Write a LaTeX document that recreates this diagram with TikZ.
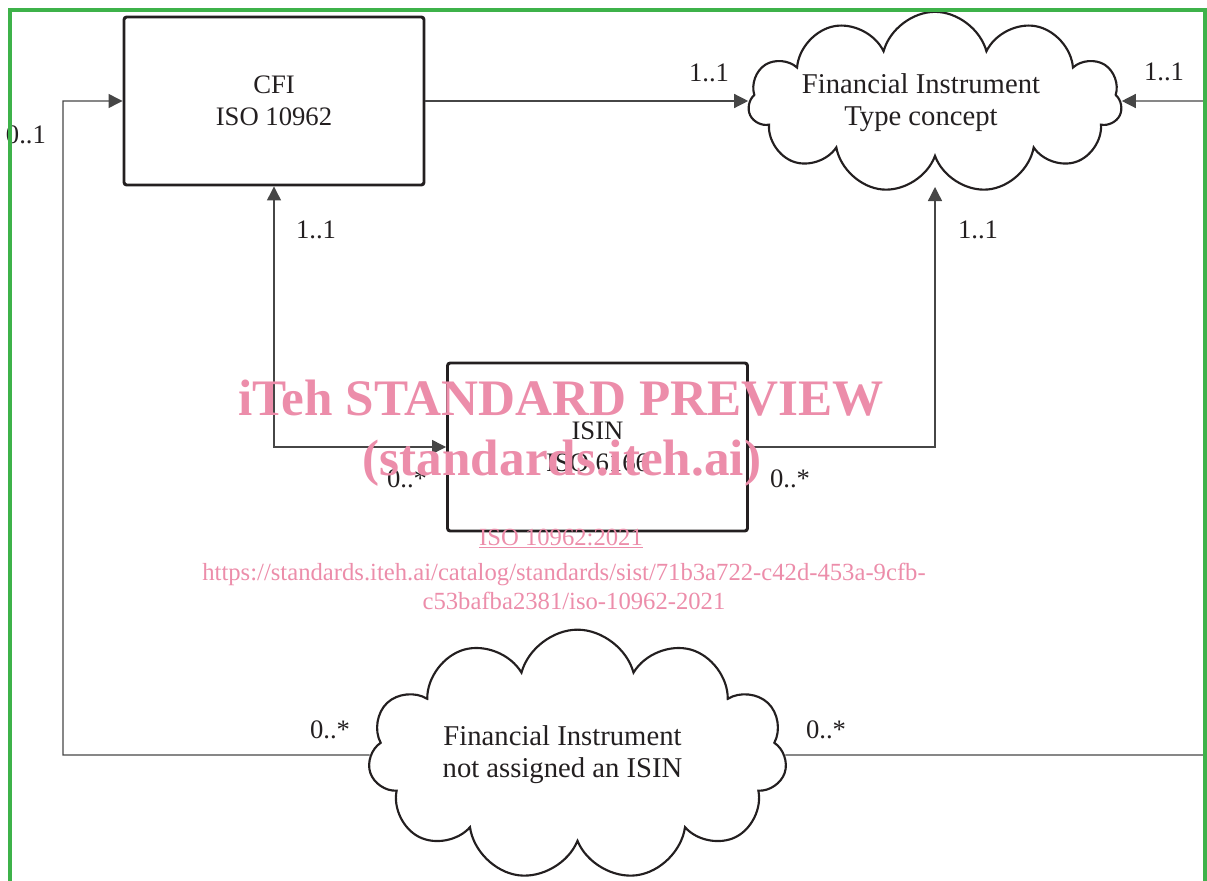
\documentclass[tikz,border=0pt]{standalone}
\usepackage{fontspec}
\setmainfont{Liberation Serif}
\usetikzlibrary{shapes.symbols,arrows.meta}
\definecolor{framegreen}{RGB}{62,178,74}
\definecolor{wm}{RGB}{236,141,170}
\definecolor{ink}{RGB}{35,31,32}
\definecolor{wire}{RGB}{70,70,70}
\newcommand\mainfs{\fontsize{20}{24}\selectfont}
\newcommand\cloudfs{\fontsize{21.5}{24}\selectfont}
\tikzset{
 boxnode/.style={draw=ink, line width=2.2pt, rounded corners=2pt, minimum width=225pt, minimum height=126pt, align=center, font=\mainfs, text=ink},
 cloudnode/.style={cloud, draw=ink, line width=1.6pt, cloud puffs=11, cloud ignores aspect, align=center, font=\cloudfs, text=ink, inner sep=0pt},
 conn/.style={draw=wire, line width=1pt},
 tipend/.style={-{Triangle[length=10.5pt,width=10.5pt]}},
 tipboth/.style={{Triangle[length=10.5pt,width=10.5pt]}-{Triangle[length=10.5pt,width=10.5pt]}},
 mult/.style={font=\mainfs, text=ink, anchor=base, inner sep=0pt},
 wmbig/.style={font=\fontsize{38.4}{40}\selectfont\bfseries, text=wm, anchor=base, inner sep=0pt},
 wmsmall/.style={font=\fontsize{18.5}{20}\selectfont, text=wm, anchor=base, inner sep=0pt},
}
\begin{document}
\begin{tikzpicture}[x=0.75pt,y=-0.75pt]
\useasboundingbox (0,0) rectangle (1207,881);
% nodes
\node[boxnode] (cfi) at (274,101) {CFI\\ISO 10962};
\node[boxnode] (isin) at (597.5,447) {ISIN\\ISO 6166};
\node[cloudnode, minimum width=280pt, minimum height=136pt] (fitc) at (935,102.5) {\hspace*{-21pt}Financial Instrument\\\hspace*{-21pt}Type concept};
\node[cloudnode, minimum width=314pt, minimum height=188pt] (fina) at (577.5,755) {\hspace*{-22.5pt}Financial Instrument\\\hspace*{-22.5pt}not assigned an ISIN};
% coordinates
\coordinate (lb) at (63,755);
\coordinate (rb) at (1204,755);
\coordinate (rt) at (1204,101);
\coordinate (fitcbot) at (935,187);
% connectors
\draw[conn,tipend] (cfi.east) -- (cfi.east -| fitc.west);
\draw[conn,tipend] (isin.east) -| (fitcbot);
\draw[conn,tipboth] (cfi.south) |- (isin.west);
\draw[conn,tipend] (fina.west) -- (lb) |- (cfi.west);
\draw[conn,tipend] (fina.east) -- (rb) -- (rt) -- (rt -| fitc.east);
% multiplicities
\node[mult] (m1) at (709,82) {1..1};
\node[mult] (m2) at (1164,80) {1..1};
\node[mult] (m3) at (316,238) {1..1};
\node[mult] (m4) at (978,238) {1..1};
\node[mult] (m5) at (26,143) {0..1};
\node[mult] (m6) at (407,487) {0..*};
\node[mult] (m7) at (790,487) {0..*};
\node[mult] (m8) at (330,738) {0..*};
\node[mult] (m9) at (826,738) {0..*};
% frame
\draw[framegreen, line width=3.5pt] (10,900) -- (10,10) -- (1205,10) -- (1205,900);
% watermark
\node[wmbig] (w1) at (561,415) {iTeh STANDARD PREVIEW};
\node[wmbig] (w2) at (562,475) {(standards.iteh.ai)};
\node[wmsmall] (w3) at (561,545) {\underline{ISO 10962:2021}};
\node[wmsmall] (w4) at (564,580) {https://standards.iteh.ai/catalog/standards/sist/71b3a722-c42d-453a-9cfb-};
\node[wmsmall] (w5) at (574,609) {c53bafba2381/iso-10962-2021};
\end{tikzpicture}
\end{document}
